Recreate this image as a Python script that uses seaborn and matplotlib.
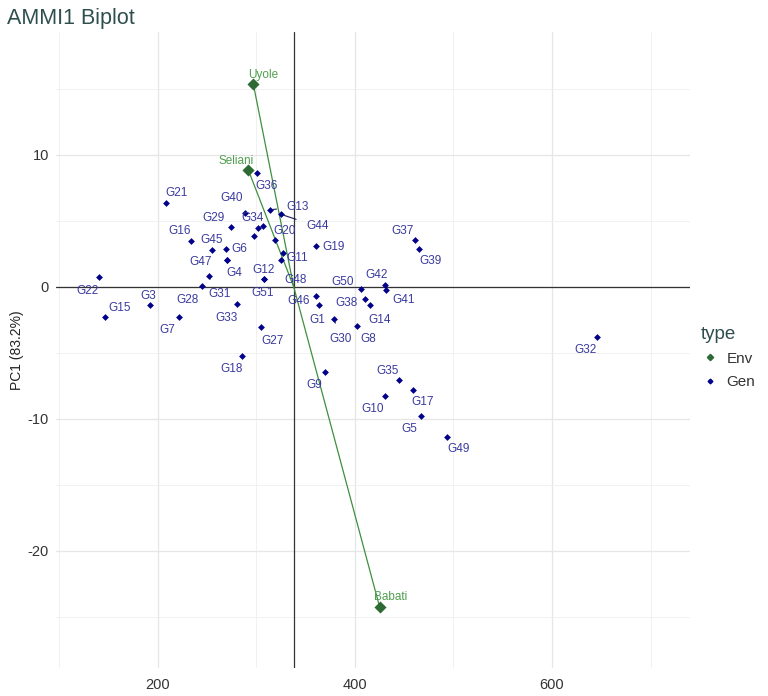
import pandas as pd
import seaborn as sns
import matplotlib.pyplot as plt
from matplotlib.ticker import MultipleLocator
from matplotlib.lines import Line2D

# environment scores
env_names = ["Uyole", "Seliani", "Babati"]
env_yield = [297.0, 291.9, 425.3]
env_pc1 = [15.38, 8.86, -24.3]

# genotype scores
gen_names = ["G1", "G3", "G4", "G5", "G6", "G7", "G8", "G9", "G10", "G11",
             "G12", "G13", "G14", "G15", "G16", "G17", "G18", "G19", "G20", "G21",
             "G22", "G27", "G28", "G29", "G30", "G31", "G32", "G33", "G34", "G35",
             "G36", "G37", "G38", "G39", "G40", "G41", "G42", "G44", "G45", "G46",
             "G47", "G48", "G49", "G50", "G51", "G2", "G43"]
gen_yield = [363.8, 192.4, 270.4, 467.5, 269.1, 221.5, 402.3, 369.9, 430.7, 324.8,
             308.2, 313.9, 414.9, 146.8, 234.2, 459.0, 285.6, 360.5, 318.7, 208.9,
             140.1, 305.1, 245.1, 274.1, 379.0, 251.8, 645.8, 280.2, 302.1, 445.1,
             300.5, 460.8, 410.1, 465.6, 288.6, 431.7, 430.7, 325.4, 254.9, 360.5,
             270.0, 326.8, 493.9, 406.3, 308.4, 306.8, 297.4]
gen_pc1 = [-1.36, -1.36, 1.99, -9.83, 2.85, -2.30, -2.98, -6.47, -8.29, 1.99,
           0.61, 5.83, -1.36, -2.30, 3.45, -7.86, -5.28, 3.08, 3.51, 6.36,
           0.73, -3.06, 0.08, 4.52, -2.45, 0.80, -3.82, -1.29, 4.42, -7.06,
           8.61, 3.57, -0.92, 2.84, 5.61, -0.23, 0.10, 5.48, 2.80, -0.73,
           2.05, 2.55, -11.42, -0.20, 0.55, 4.57, 3.81]

grand_mean = 338.0

env = pd.DataFrame({"name": env_names, "yield": env_yield, "pc1": env_pc1, "type": "Env"})
gen = pd.DataFrame({"name": gen_names, "yield": gen_yield, "pc1": gen_pc1, "type": "Gen"})
df = pd.concat([env, gen], ignore_index=True)

# label offsets in pixels (dx, dy up), as placed by the repel step
offsets = {
    "G21": (10, 10), "G36": (10, -13), "G40": (-13, 15), "G13": (28, 3), "G44": (36, -12),
    "G29": (-17, 9), "G34": (-6, 10), "G20": (10, 9), "G16": (-12, 10), "G45": (0, 10),
    "G6": (14, 0), "G47": (-26, -2), "G4": (7, -13), "G12": (-1, 9), "G51": (-2, -14),
    "G11": (17, 2), "G48": (13, -27), "G22": (-11, -14), "G3": (-2, 9), "G15": (14, 9),
    "G28": (-15, -14), "G31": (11, -18), "G7": (-12, -13), "G33": (-10, -14), "G27": (11, -14),
    "G18": (-10, -13), "G46": (-17, -5), "G1": (-2, -15), "G19": (18, -1), "G50": (-18, 7),
    "G42": (-9, 10), "G41": (18, -10), "G38": (-18, -4), "G14": (10, -15), "G30": (6, -20),
    "G8": (11, -13), "G37": (-12, 9), "G39": (11, -12), "G9": (-11, -13), "G35": (-12, 9),
    "G17": (10, -12), "G10": (-12, -13), "G5": (-12, -13), "G49": (11, -12), "G32": (-12, -13),
    "Uyole": (10, 9), "Seliani": (-12, 9), "Babati": (11, 10),
}
leaders = ["G40", "G13", "G44", "G31", "G30"]

env_col = "#2e6b34"
env_txt = "#4f9f4f"
gen_col = "#00008b"
gen_txt = "#3a3a9e"

sns.set_theme(style="whitegrid")
plt.rcParams["font.family"] = ["Liberation Sans", "DejaVu Sans"]
plt.rcParams["axes.unicode_minus"] = False

fig = plt.figure(figsize=(7.68, 6.96), dpi=100)
ax = fig.add_axes([0.073, 0.040, 0.8255, 0.914])

ax.axhline(0, color="#333333", lw=0.9, zorder=1)
ax.axvline(grand_mean, color="#333333", lw=0.9, zorder=1)

for _, r in env.iterrows():
    ax.plot([grand_mean, r["yield"]], [0, r["pc1"]], color="#3f8f3f", lw=0.9, zorder=2)

sns.scatterplot(data=gen, x="yield", y="pc1", color=gen_col, marker="D", s=12,
                linewidth=0, ax=ax, zorder=3, legend=False)
sns.scatterplot(data=env, x="yield", y="pc1", color=env_col, marker="D", s=38,
                linewidth=0, ax=ax, zorder=4, legend=False)

for _, r in df.iterrows():
    if r["name"] not in offsets:
        continue
    dx, dy = offsets[r["name"]]
    c = env_txt if r["type"] == "Env" else gen_txt
    ap = None
    if r["name"] in leaders:
        ap = dict(arrowstyle="-", color="#1a1a5e", lw=0.8, shrinkA=5, shrinkB=2)
    ax.annotate(r["name"], (r["yield"], r["pc1"]), xytext=(dx, dy),
                textcoords="offset pixels", ha="center", va="center",
                fontsize=8.5, color=c, arrowprops=ap, zorder=5)

ax.set_xlim(97, 740)
ax.set_ylim(-28.9, 19.3)
ax.xaxis.set_major_locator(MultipleLocator(200))
ax.xaxis.set_minor_locator(MultipleLocator(100))
ax.yaxis.set_major_locator(MultipleLocator(10))
ax.yaxis.set_minor_locator(MultipleLocator(5))
ax.grid(which="major", color="#e6e6e6", lw=0.9)
ax.grid(which="minor", color="#efefef", lw=0.6)
ax.set_facecolor("white")
for s in ax.spines.values():
    s.set_visible(False)
ax.tick_params(which="both", length=0, labelsize=10.5, labelcolor="#333333")
ax.tick_params(axis="x", pad=7)
ax.tick_params(axis="y", pad=5)
ax.set_xlabel("")
ax.set_ylabel("PC1 (83.2%)", fontsize=10, color="#222222")
ax.yaxis.set_label_coords(-0.05, 0.5)

fig.text(0.009, 0.974, "AMMI1 Biplot", fontsize=15.5, color="#2f4f4f", va="center")

handles = [Line2D([], [], marker="D", ls="", color=env_col, markersize=3.2),
           Line2D([], [], marker="D", ls="", color=gen_col, markersize=2.4)]
leg = ax.legend(handles, ["Env", "Gen"], title="type", loc="upper left",
                bbox_to_anchor=(0.995, 0.56), frameon=False, fontsize=11,
                handletextpad=0.5, handlelength=1.2, labelspacing=0.6)
leg.get_title().set_color("#2f4f4f")
leg.get_title().set_fontsize(13.5)
leg._legend_box.align = "left"
for t in leg.get_texts():
    t.set_color("#333333")

fig.savefig("out.png", dpi=100)
